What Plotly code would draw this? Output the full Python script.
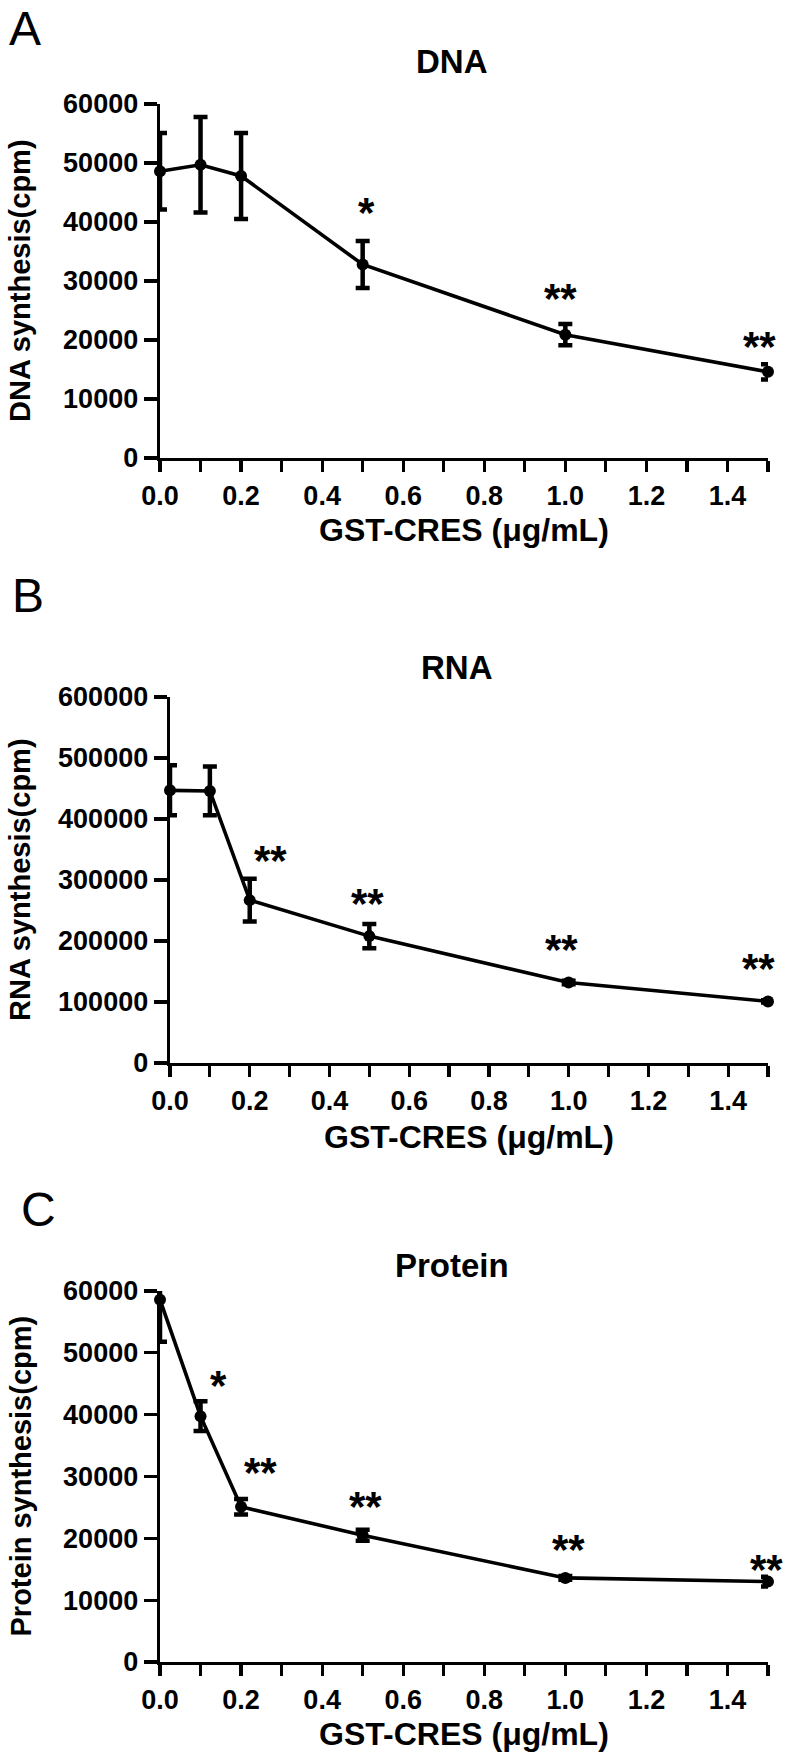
import plotly.graph_objects as go

W, H = 796, 1756

# ---------------- data ----------------
doses = [0.0, 0.1, 0.2, 0.5, 1.0, 1.5]

dna_mean = [48600, 49700, 47800, 32800, 20900, 14600]
dna_err = [6500, 8100, 7300, 4000, 1800, 1300]

rna_mean = [447000, 446000, 267000, 208000, 132000, 101000]
rna_err = [41000, 40000, 35000, 20000, 3000, 2000]

prot_mean = [58600, 39750, 25100, 20500, 13600, 13000]
prot_err = [6800, 2400, 1250, 900, 300, 800]

x_tickvals = [0.0, 0.1, 0.2, 0.3, 0.4, 0.5, 0.6, 0.7, 0.8, 0.9, 1.0, 1.1, 1.2, 1.3, 1.4, 1.5]
x_ticktext = ["0.0", "", "0.2", "", "0.4", "", "0.6", "", "0.8", "", "1.0", "", "1.2", "", "1.4", ""]

dna_yticks = [0, 10000, 20000, 30000, 40000, 50000, 60000]
dna_yticktext = ["0", "10000", "20000", "30000", "40000", "50000", "60000"]
rna_yticks = [0, 100000, 200000, 300000, 400000, 500000, 600000]
rna_yticktext = ["0", "100000", "200000", "300000", "400000", "500000", "600000"]
prot_yticks = [0, 10000, 20000, 30000, 40000, 50000, 60000]
prot_yticktext = ["0", "10000", "20000", "30000", "40000", "50000", "60000"]

panel_letters = ["A", "B", "C"]
panel_titles = ["DNA", "RNA", "Protein"]
y_titles = ["DNA synthesis(cpm)", "RNA synthesis(cpm)", "Protein synthesis(cpm)"]
x_title = "GST-CRES (\u03bcg/mL)"

# significance labels (x, y in data units, text)
dna_sig = [(0.51, 43100, "*"), (0.987, 28600, "**"), (1.478, 20400, "**")]
rna_sig = [(0.253, 346000, "**"), (0.495, 277000, "**"), (0.982, 201000, "**"), (1.477, 170000, "**")]
prot_sig = [(0.145, 46100, "*"), (0.249, 32100, "**"), (0.508, 26600, "**"), (1.009, 19600, "**"), (1.497, 16400, "**")]

# ---------------- layout geometry (pixels) ----------------
panels = [
    dict(mean=dna_mean, err=dna_err, yticks=dna_yticks, yticktext=dna_yticktext, ymax=60000, sig=dna_sig,
         x0=160, x1=768, ytop=104, ybot=458, letter_xy=(25, 0), title_y=61, xt_y=530),
    dict(mean=rna_mean, err=rna_err, yticks=rna_yticks, yticktext=rna_yticktext, ymax=600000, sig=rna_sig,
         x0=170, x1=768, ytop=697, ybot=1063, letter_xy=(28, 567), title_y=668, xt_y=1137),
    dict(mean=prot_mean, err=prot_err, yticks=prot_yticks, yticktext=prot_yticktext, ymax=60000, sig=prot_sig,
         x0=160, x1=768, ytop=1291, ybot=1662, letter_xy=(38, 1181), title_y=1265, xt_y=1734),
]

FONT = "Liberation Sans, Arial, sans-serif"

def px(x):
    return x / W

def py(y):
    return 1 - y / H

fig = go.Figure()
annotations = []
layout = {}

for i, p in enumerate(panels):
    k = "" if i == 0 else str(i + 1)
    xa, ya = "x" + k, "y" + k
    fig.add_trace(go.Scatter(
        x=doses, y=p["mean"], xaxis=xa, yaxis=ya,
        mode="lines+markers",
        line=dict(color="black", width=3.6),
        marker=dict(color="black", size=12),
        error_y=dict(type="data", array=p["err"], visible=True,
                     color="black", thickness=4.5, width=7),
        cliponaxis=False, showlegend=False, hoverinfo="skip",
    ))
    layout["xaxis" + k] = dict(
        domain=[px(p["x0"]), px(p["x1"])], anchor=ya, range=[0, 1.5],
        tickmode="array", tickvals=x_tickvals, ticktext=x_ticktext,
        ticks="outside", ticklen=11, tickwidth=3.2, tickcolor="black",
        showline=True, linewidth=3.4, linecolor="black",
        showgrid=False, zeroline=False, automargin=False,
        tickfont=dict(family=FONT, size=27, color="black", weight="bold"),
    )
    layout["yaxis" + k] = dict(
        domain=[py(p["ybot"]), py(p["ytop"])], anchor=xa, range=[0, p["ymax"]],
        tickmode="array", tickvals=p["yticks"], ticktext=p["yticktext"],
        ticks="outside", ticklen=13, tickwidth=3.2, tickcolor="black",
        showline=True, linewidth=3.4, linecolor="black",
        showgrid=False, zeroline=False, automargin=False,
        tickfont=dict(family=FONT, size=27, color="black", weight="bold"),
    )
    cx = (p["x0"] + p["x1"]) / 2
    cy = (p["ytop"] + p["ybot"]) / 2
    # panel letter (anchored at its top edge)
    annotations.append(dict(x=px(p["letter_xy"][0]), y=py(p["letter_xy"][1]), xref="paper", yref="paper",
                            text=panel_letters[i], showarrow=False, xanchor="center", yanchor="top",
                            font=dict(family=FONT, size=48, color="black")))
    # panel title
    annotations.append(dict(x=px(cx - 12), y=py(p["title_y"]), xref="paper", yref="paper",
                            text=panel_titles[i], showarrow=False, xanchor="center", yanchor="middle",
                            font=dict(family=FONT, size=33, color="black", weight="bold")))
    # y title
    annotations.append(dict(x=px(20), y=py(cy), xref="paper", yref="paper",
                            text=y_titles[i], showarrow=False, textangle=-90,
                            xanchor="center", yanchor="middle",
                            font=dict(family=FONT, size=29, color="black", weight="bold")))
    # x title
    annotations.append(dict(x=px(cx), y=py(p["xt_y"]), xref="paper", yref="paper",
                            text=x_title, showarrow=False, xanchor="center", yanchor="middle",
                            font=dict(family=FONT, size=32, color="black", weight="bold")))
    # significance stars
    for (sx, sy, st) in p["sig"]:
        annotations.append(dict(x=sx, y=sy, xref=xa, yref=ya, text=st, showarrow=False,
                                xanchor="center", yanchor="middle", yshift=-9,
                                font=dict(family=FONT, size=42, color="black", weight="bold")))

fig.update_layout(
    width=W, height=H, margin=dict(l=0, r=0, t=0, b=0),
    paper_bgcolor="white", plot_bgcolor="white",
    annotations=annotations, showlegend=False, hovermode=False,
    **layout,
)

fig.write_html(
    "out.html",
    config={"displayModeBar": False, "staticPlot": True},
    post_script="document.body.style.margin='0';document.body.style.padding='0';"
                "document.documentElement.style.overflow='hidden';",
)
